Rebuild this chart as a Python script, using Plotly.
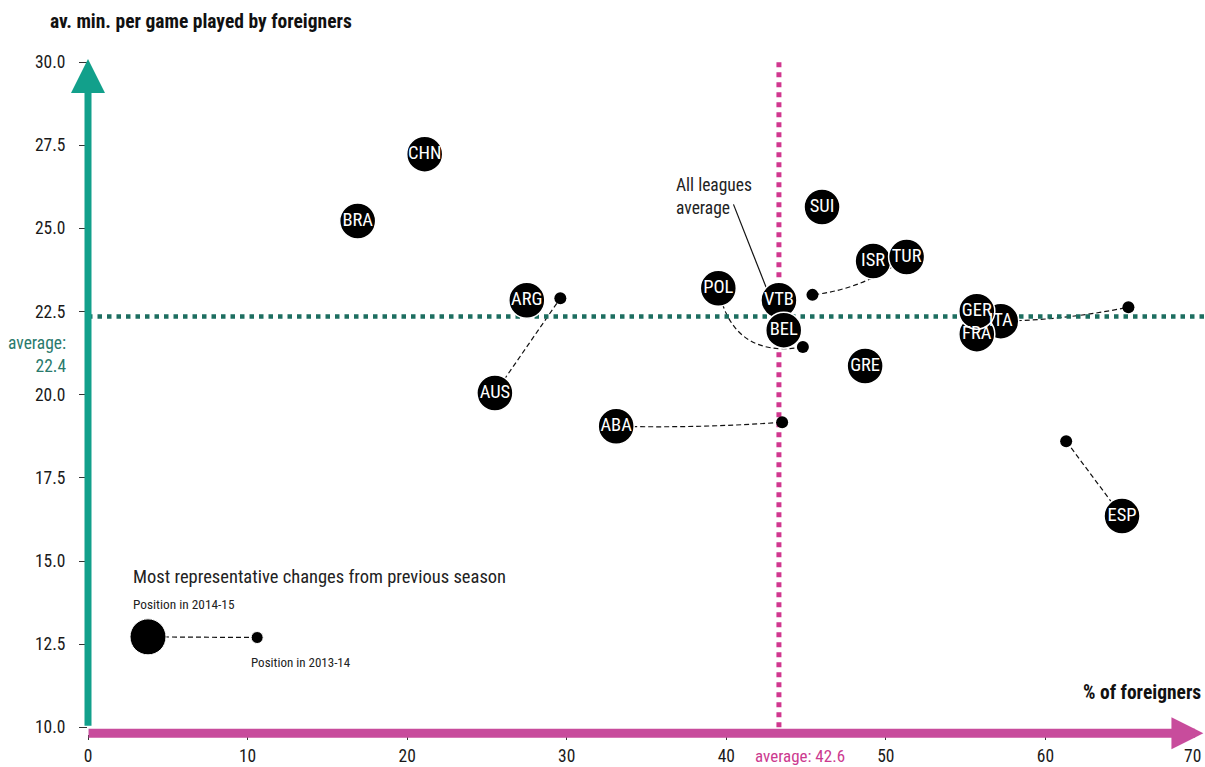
import math
import plotly.graph_objects as go

# 2014-15 position of each league
countries = ['CHN', 'BRA', 'ARG', 'AUS', 'ABA', 'POL', 'VTB', 'BEL', 'SUI',
             'ISR', 'TUR', 'GRE', 'ITA', 'FRA', 'GER', 'ESP']
pct_foreigners = [21.1, 16.9, 27.5, 25.5, 33.1, 39.5, 43.3, 43.6, 46.0,
                  49.2, 51.3, 48.7, 57.2, 55.7, 55.7, 64.8]
avg_minutes = [27.23, 25.22, 22.84, 20.05, 19.05, 23.2, 22.84, 21.94, 25.64,
               24.02, 24.14, 20.86, 22.21, 21.82, 22.51, 16.35]

# 2013-14 position for the leagues with the biggest changes
prev_countries = ['AUS', 'ABA', 'POL', 'TUR', 'ITA', 'ESP']
prev_pct = [29.6, 43.5, 44.8, 45.4, 65.2, 61.3]
prev_minutes = [22.9, 19.17, 21.43, 23.0, 22.63, 18.6]
# curvature of the connecting dashed line (pixels)
prev_bend = [0, 4, 50, 14, 6, 0]

avg_pct_label = 42.6
avg_pct_line = 43.3
avg_min_label = 22.4
avg_min_line = 22.35
all_leagues_tip = (42.6, 23.1)

x_ticks = [0, 10, 20, 30, 40, 50, 60]
y_ticks = [10, 12.5, 15, 17.5, 20, 22.5, 25, 27.5, 30]

FONT = "Liberation Sans Narrow, Roboto Condensed, DejaVu Sans Condensed, Roboto, sans-serif"
TEAL = '#12A08B'
TEAL_DARK = '#1D6E60'
MAGENTA = '#C84C9C'
MAGENTA_DOT = '#D1378F'
SX, SY = 15.95, 33.25  # px per unit

LEG_BIG = (3.76, 12.72)
LEG_SMALL = (10.6, 12.7)

fig = go.Figure()

shapes = []


def curve(x0, y0, x1, y1, bend):
    # quadratic curve between two points, bend in screen pixels (sagging down)
    p0 = (x0 * SX, -y0 * SY)
    p1 = (x1 * SX, -y1 * SY)
    dx, dy = p1[0] - p0[0], p1[1] - p0[1]
    n = math.hypot(dx, dy)
    px, py = -dy / n, dx / n
    if py < 0:
        px, py = -px, -py
    cx = (p0[0] + p1[0]) / 2 + px * bend
    cy = (p0[1] + p1[1]) / 2 + py * bend
    cx, cy = cx / SX, -cy / SY
    return f'M {x0},{y0} Q {cx},{cy} {x1},{y1}'


for c, xp, yp, b in zip(prev_countries, prev_pct, prev_minutes, prev_bend):
    i = countries.index(c)
    shapes.append(dict(type='path', xref='x', yref='y', layer='below',
                       path=curve(pct_foreigners[i], avg_minutes[i], xp, yp, b),
                       line=dict(color='#111', width=1.2, dash='5px,3px')))

shapes.append(dict(type='line', xref='x', yref='y', layer='below',
                   x0=LEG_BIG[0], y0=LEG_BIG[1], x1=LEG_SMALL[0], y1=LEG_SMALL[1],
                   line=dict(color='#111', width=1.2, dash='5px,3px')))

# averages
shapes.append(dict(type='line', xref='x', yref='y', layer='below',
                   x0=0, x1=70, y0=avg_min_line, y1=avg_min_line,
                   line=dict(color=TEAL_DARK, width=4.5, dash='4.5px,5px')))
shapes.append(dict(type='line', xref='x', yref='y', layer='below',
                   x0=avg_pct_line, x1=avg_pct_line, y0=10, y1=30.15,
                   line=dict(color=MAGENTA_DOT, width=5, dash='5px,5px')))
# pointer from "All leagues average"
shapes.append(dict(type='line', xref='x', yref='y', layer='below',
                   x0=40.45, y0=25.72, x1=all_leagues_tip[0], y1=all_leagues_tip[1],
                   line=dict(color='#111', width=1.2)))

fig.add_trace(go.Scatter(
    x=prev_pct, y=prev_minutes, mode='markers',
    marker=dict(size=12, color='black', opacity=1),
    hovertext=prev_countries, hoverinfo='text+x+y', showlegend=False))

fig.add_trace(go.Scatter(
    x=pct_foreigners, y=avg_minutes, mode='markers+text',
    text=countries, textposition='middle center',
    textfont=dict(family=FONT, size=18.5, color='white'),
    marker=dict(size=36, color='black', opacity=1,
                line=dict(color='white', width=1.5)),
    hoverinfo='text+x+y', showlegend=False))

# legend sample
fig.add_trace(go.Scatter(
    x=[LEG_BIG[0], LEG_SMALL[0]], y=[LEG_BIG[1], LEG_SMALL[1]], mode='markers',
    marker=dict(size=[36, 12], color='black', opacity=1),
    hoverinfo='skip', showlegend=False))

annotations = [
    # axis arrows
    dict(x=0, y=30.09, ax=0, ay=10.0, xref='x', yref='y', axref='x', ayref='y',
         text='', showarrow=True, arrowhead=2, arrowwidth=7, arrowsize=0.97,
         arrowcolor=TEAL, standoff=0),
    dict(x=69.9, y=9.82, ax=-0.06, ay=9.82, xref='x', yref='y', axref='x', ayref='y',
         text='', showarrow=True, arrowhead=2, arrowwidth=9, arrowsize=0.71,
         arrowcolor=MAGENTA, standoff=0),
    dict(x=69.85, y=-0.032, xref='x', yref='paper', text='70', showarrow=False,
         xanchor='right', yanchor='middle', font=dict(family=FONT, size=17.5, color='#1a1a1a')),
    # axis titles
    dict(x=-0.036, y=1.06, xref='paper', yref='paper', xanchor='left', yanchor='middle',
         text='<b>av. min. per game played by foreigners</b>', showarrow=False,
         font=dict(family=FONT, size=19.5, color='#111')),
    dict(x=0.998, y=0.0625, xref='paper', yref='paper', xanchor='right', yanchor='middle',
         text='<b>% of foreigners</b>', showarrow=False,
         font=dict(family=FONT, size=19.5, color='#111')),
    # averages
    dict(x=-0.018, y=21.22, xref='paper', yref='y', xanchor='right', yanchor='middle',
         align='right', text=f'average:<br>{avg_min_label}', showarrow=False,
         font=dict(family=FONT, size=17.5, color='#2A7A6C')),
    dict(x=44.6, y=-0.032, xref='x', yref='paper', xanchor='center', yanchor='middle',
         text=f'average: {avg_pct_label}', showarrow=False,
         font=dict(family=FONT, size=17, color='#CC3A8F')),
    dict(x=36.75, y=25.97, xref='x', yref='y', xanchor='left', yanchor='middle',
         align='left', text='All leagues<br>average', showarrow=False,
         font=dict(family=FONT, size=17.5, color='#222')),
    # legend texts
    dict(x=2.7, y=14.51, xref='x', yref='y', xanchor='left', yanchor='middle',
         text='Most representative changes from previous season', showarrow=False,
         font=dict(family=FONT, size=18.5, color='#222')),
    dict(x=2.7, y=13.7, xref='x', yref='y', xanchor='left', yanchor='middle',
         text='Position in 2014-15', showarrow=False,
         font=dict(family=FONT, size=13.3, color='#222')),
    dict(x=10.1, y=11.96, xref='x', yref='y', xanchor='left', yanchor='middle',
         text='Position in 2013-14', showarrow=False,
         font=dict(family=FONT, size=13, color='#222')),
]

fig.update_layout(
    width=1205, height=767,
    margin=dict(l=88, r=0, t=62, b=33),
    paper_bgcolor='white', plot_bgcolor='white',
    font=dict(family=FONT, size=17.5, color='#1a1a1a'),
    shapes=shapes, annotations=annotations,
    showlegend=False,
    xaxis=dict(range=[0, 70], tickvals=x_ticks, showgrid=False, zeroline=False,
               showline=False, ticks='outside', ticklen=5, tickcolor='#333',
               ticklabelstandoff=1, automargin=False),
    yaxis=dict(range=[9.8, 30], tickvals=y_ticks, tickformat='.1f', showgrid=False,
               zeroline=False, showline=False, ticks='outside', ticklen=8,
               tickcolor='#333', ticklabelstandoff=10, automargin=False),
)

# drop the default body margin so the figure fills the window exactly
fig.write_html("out.html", config={'displayModeBar': False},
               post_script="document.body.style.margin='0';document.body.style.overflow='hidden';")
